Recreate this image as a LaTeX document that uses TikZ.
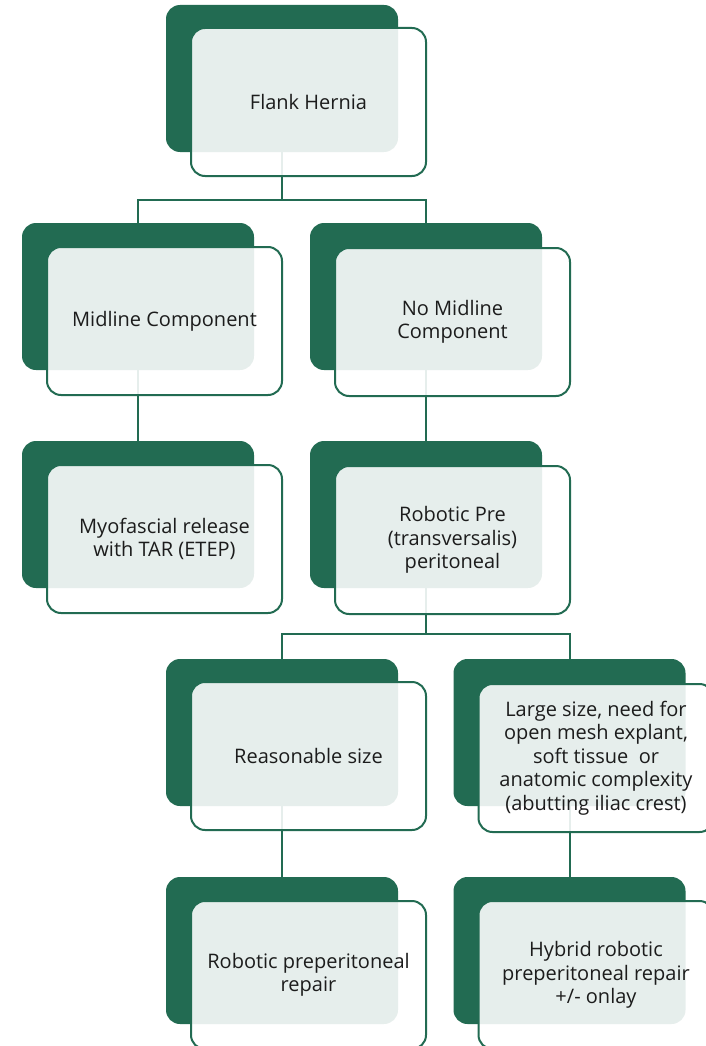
\documentclass[tikz,border=0pt]{standalone}
\usepackage{fontspec}
\setmainfont{Open Sans}
\definecolor{dg}{RGB}{34,107,82}
\definecolor{tx}{RGB}{28,28,28}
\begin{document}
\begin{tikzpicture}[x=1pt,y=-1pt,
 back/.style={fill=dg, rounded corners=14pt, minimum width=232pt, minimum height=147pt, inner sep=0pt},
 front/.style={draw=dg, line width=2pt, fill=white, fill opacity=0.89, text opacity=1, rounded corners=14pt, minimum width=235pt, minimum height=148pt, inner sep=0pt, align=center, font=\fontsize{20}{23.5}\selectfont, text=tx},
 link/.style={draw=dg, line width=2pt}]
\useasboundingbox (0,0) rectangle (706,1046);
\clip (0,0) rectangle (706,1046);
% back boxes
\node[back] (b0) at (282,78.5) {};
\node[back] (b1) at (138,296.5) {};
\node[back] (b2) at (426,296.5) {};
\node[back] (b3) at (138,514.5) {};
\node[back] (b4) at (426,514.5) {};
\node[back] (b5) at (282,732.5) {};
\node[back] (b6) at (569.5,732.5) {};
\node[back] (b7) at (282,950.5) {};
\node[back] (b8) at (569.5,950.5) {};
% connectors
\coordinate (j0) at (282,200);
\coordinate (j1) at (426,634);
\draw[link] (b0.south) -- (j0) -| (b1.north);
\draw[link] (j0) -| (b2.north);
\draw[link] (b1.south) -- (b3.north);
\draw[link] (b2.south) -- (b4.north);
\draw[link] (b4.south) -- (j1) -| (b5.north);
\draw[link] (j1) -| (b6.north);
\draw[link] (b5.south) -- (b7.north);
\draw[link] (b6.south) -- (b8.north);
% front boxes
\node[front] (f0) at (308.5,102) {Flank Hernia};
\node[front] (f1) at (164.5,321) {Midline Component};
\node[front] (f2) at (452.5,322) {No Midline\\Component};
\node[front] (f3) at (164.5,539) {Myofascial release\\with TAR (ETEP)};
\node[front] (f4) at (452.5,540) {Robotic Pre\\(transversalis)\\peritoneal};
\node[front] (f5) at (308.5,756) {Reasonable size};
\node[front] (f6) at (596,758) {Large size, need for\\open mesh explant,\\soft tissue\ \ or\\anatomic complexity\\(abutting iliac crest)};
\node[front] (f7) at (308.5,975) {Robotic preperitoneal\\repair};
\node[front] (f8) at (596,975) {Hybrid robotic\\preperitoneal repair\\+/- onlay};
\end{tikzpicture}
\end{document}
